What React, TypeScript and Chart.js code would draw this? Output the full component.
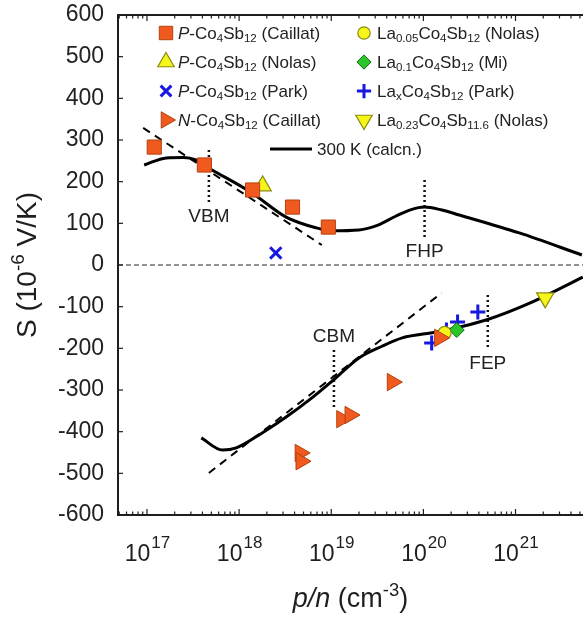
import React, { useEffect, useRef } from 'react';
import { Chart, registerables } from 'chart.js';

Chart.register(...registerables);

const FONT = "Arial, 'Liberation Sans', Helvetica, sans-serif";
const INK = '#1e1e1e';

// ---------- axes ----------
const X_MIN = 4.85e16;
const X_MAX = 5.4e21;
const Y_MIN = -600;
const Y_MAX = 600;
const Y_STEP = 100;
const X_DECADES = [17, 18, 19, 20, 21];

// ---------- measured data: carrier conc. (cm^-3) / Seebeck (uV/K) ----------
const pCaillatN = [1.2e17, 4.2e17, 1.4e18, 3.8e18, 9.3e18];
const pCaillatS = [283, 240, 180, 139, 91];
const pNolasN = [1.8e18];
const pNolasS = [190];
const pParkN = [2.5e18];
const pParkS = [29];
const nCaillatN = [4.6e18, 4.7e18, 1.3e19, 1.6e19, 4.6e19, 1.5e20];
const nCaillatS = [-451, -471, -370, -360, -281, -175];
const la005N = [1.7e20];
const la005S = [-163];
const la01N = [2.3e20];
const la01S = [-156];
const laxN = [1.23e20, 1.78e20, 2.35e20, 3.9e20];
const laxS = [-187, -156, -137, -113];
const la023N = [2.1e21];
const la023S = [-79];

// ---------- calculated 300 K curve ----------
const calcPN = [9.33e16, 1.62e17, 2.51e17, 3.39e17, 4.68e17, 1.38e18, 3.24e18, 6.92e18, 1.02e19, 2.0e19, 3.16e19, 5.0e19, 7.4e19, 1.02e20, 1.58e20, 2.45e20, 1.1e21, 5.25e21];
const calcPS = [240, 257, 258, 252, 233, 173, 115, 89, 82, 84, 95, 117, 133, 139, 132, 120, 77, 24];
const calcNN = [3.89e17, 6.6e17, 9.3e17, 1.78e18, 3.24e18, 6.17e18, 1.02e19, 2.0e19, 3.55e19, 5.9e19, 1.38e20, 2.45e20, 4.79e20, 1.51e21, 5.37e21];
const calcNS = [-415, -444, -439, -403, -365, -319, -279, -223, -195, -175, -161, -149, -132, -89, -29];

// ---------- tangent (dashed) lines ----------
const tanPN = [9.1e16, 7.9e18];
const tanPS = [329, 48];
const tanNN = [4.7e17, 1.58e20];
const tanNS = [-499, -67];

// ---------- band markers (dotted) ----------
const markLabels = ['VBM', 'FHP', 'CBM', 'FEP'];
const markN = [4.7e17, 1.03e20, 1.07e19, 5.0e20];
const markTop = [276, 204, -204, -72];
const markBottom = [146, 60, -343, -197];
const markTextS = [120, 36, -168, -233];

// ---------- legend text ----------
type Seg = [string, string];
const legendLabels: Seg[][] = [
  [['P', 'i'], ['-Co', 'n'], ['4', 'sub'], ['Sb', 'n'], ['12', 'sub'], [' (Caillat)', 'n']],
  [['P', 'i'], ['-Co', 'n'], ['4', 'sub'], ['Sb', 'n'], ['12', 'sub'], [' (Nolas)', 'n']],
  [['P', 'i'], ['-Co', 'n'], ['4', 'sub'], ['Sb', 'n'], ['12', 'sub'], [' (Park)', 'n']],
  [['N', 'i'], ['-Co', 'n'], ['4', 'sub'], ['Sb', 'n'], ['12', 'sub'], [' (Caillat)', 'n']],
  [['La', 'n'], ['0.05', 'sub'], ['Co', 'n'], ['4', 'sub'], ['Sb', 'n'], ['12', 'sub'], [' (Nolas)', 'n']],
  [['La', 'n'], ['0.1', 'sub'], ['Co', 'n'], ['4', 'sub'], ['Sb', 'n'], ['12', 'sub'], [' (Mi)', 'n']],
  [['La', 'n'], ['x', 'sub'], ['Co', 'n'], ['4', 'sub'], ['Sb', 'n'], ['12', 'sub'], [' (Park)', 'n']],
  [['La', 'n'], ['0.23', 'sub'], ['Co', 'n'], ['4', 'sub'], ['Sb', 'n'], ['11.6', 'sub'], [' (Nolas)', 'n']],
];
const curveLabel: Seg[] = [['300 K (calcn.)', 'n']];
const xTitle: Seg[] = [['p/n', 'i'], [' (cm', 'n'], ['-3', 'sup'], [')', 'n']];
const yTitle: Seg[] = [['S (10', 'n'], ['-6', 'sup'], [' V/K)', 'n']];

const ORANGE = '#F05A1E';
const ORANGE_EDGE = '#B3420E';
const YELLOW = '#F6F61A';
const YELLOW_EDGE = '#8C8A10';
const BLUE = '#1818E0';
const GREEN = '#2BC42B';
const GREEN_EDGE = '#0F6A0F';

const pts = (xs: number[], ys: number[]) => xs.map((x, i) => ({ x, y: ys[i] }));

function drawRich(ctx: CanvasRenderingContext2D, segs: Seg[], x: number, y: number, size: number, align: 'left' | 'center' = 'left') {
  const parts = segs.map(([t, s]) => {
    const small = s === 'sub' || s === 'sup';
    const fs = small ? size * 0.68 : size;
    const font = `${s === 'i' ? 'italic ' : ''}${fs}px ${FONT}`;
    ctx.font = font;
    return { t, s, font, w: ctx.measureText(t).width };
  });
  const total = parts.reduce((a, p) => a + p.w, 0);
  let cx = align === 'center' ? x - total / 2 : x;
  ctx.textAlign = 'left';
  ctx.textBaseline = 'alphabetic';
  for (const p of parts) {
    ctx.font = p.font;
    const dy = p.s === 'sub' ? size * 0.2 : p.s === 'sup' ? -size * 0.42 : 0;
    ctx.fillText(p.t, cx, y + dy);
    cx += p.w;
  }
  return total;
}

function drawMarker(ctx: CanvasRenderingContext2D, style: string, x: number, y: number, r: number, fill: string, stroke: string, lw: number, rotDeg: number) {
  ctx.save();
  ctx.beginPath();
  ctx.fillStyle = fill;
  ctx.strokeStyle = stroke;
  ctx.lineWidth = lw;
  let rad = (rotDeg * Math.PI) / 180;
  if (style === 'rect') {
    const s = r * Math.SQRT1_2;
    ctx.rect(x - s, y - s, 2 * s, 2 * s);
    ctx.fill();
    ctx.stroke();
  } else if (style === 'triangle') {
    for (let i = 0; i < 3; i++) {
      const px = x + Math.sin(rad) * r;
      const py = y - Math.cos(rad) * r;
      if (i === 0) ctx.moveTo(px, py);
      else ctx.lineTo(px, py);
      rad += (2 * Math.PI) / 3;
    }
    ctx.closePath();
    ctx.fill();
    ctx.stroke();
  } else if (style === 'circle') {
    ctx.arc(x, y, r, 0, Math.PI * 2);
    ctx.fill();
    ctx.stroke();
  } else if (style === 'rectRot') {
    ctx.moveTo(x, y - r);
    ctx.lineTo(x + r, y);
    ctx.lineTo(x, y + r);
    ctx.lineTo(x - r, y);
    ctx.closePath();
    ctx.fill();
    ctx.stroke();
  } else if (style === 'cross' || style === 'crossRot') {
    if (style === 'crossRot') rad += Math.PI / 4;
    const xo = Math.cos(rad) * r;
    const yo = Math.sin(rad) * r;
    ctx.moveTo(x - xo, y - yo);
    ctx.lineTo(x + xo, y + yo);
    ctx.moveTo(x - yo, y + xo);
    ctx.lineTo(x + yo, y - xo);
    ctx.stroke();
  }
  ctx.restore();
}

const zeroPad = (s: any) => {
  s.paddingTop = 0;
  s.paddingBottom = 0;
  s.paddingLeft = 0;
  s.paddingRight = 0;
};

const overlay = {
  id: 'overlay',
  afterDraw(chart: any) {
    const { ctx, chartArea: a, scales } = chart;
    const xs = scales.x;
    const ys = scales.y;
    ctx.save();
    ctx.strokeStyle = INK;
    ctx.fillStyle = INK;
    const seg = (x1: number, y1: number, x2: number, y2: number) => {
      ctx.beginPath();
      ctx.moveTo(x1, y1);
      ctx.lineTo(x2, y2);
      ctx.stroke();
    };
    // top border
    ctx.lineWidth = 2;
    seg(a.left - 1, a.top, a.right, a.top);
    // x ticks (inward, both sides)
    ctx.lineWidth = 1.2;
    for (let e = 16; e <= 21; e++) {
      for (let k = 1; k <= 9; k++) {
        const v = k * Math.pow(10, e);
        if (v < xs.min || v > xs.max) continue;
        const px = xs.getPixelForValue(v);
        const len = k === 1 ? 6 : 3.5;
        seg(px, a.bottom, px, a.bottom - len);
        seg(px, a.top, px, a.top + len);
      }
    }
    // y ticks (inward)
    for (let v = Y_MIN; v <= Y_MAX; v += Y_STEP) {
      const py = ys.getPixelForValue(v);
      seg(a.left, py, a.left + 5, py);
    }
    // x tick labels 10^n
    for (const n of X_DECADES) {
      const px = xs.getPixelForValue(Math.pow(10, n));
      ctx.font = `23px ${FONT}`;
      const w1 = ctx.measureText('10').width;
      ctx.font = `17px ${FONT}`;
      const w2 = ctx.measureText(String(n)).width;
      const x0 = px - (w1 + w2) / 2;
      ctx.textAlign = 'left';
      ctx.textBaseline = 'alphabetic';
      ctx.font = `23px ${FONT}`;
      ctx.fillText('10', x0, 561);
      ctx.font = `17px ${FONT}`;
      ctx.fillText(String(n), x0 + w1 + 1, 548);
    }
    // axis titles
    drawRich(ctx, xTitle, (a.left + a.right) / 2, 607, 27, 'center');
    ctx.save();
    ctx.translate(26, (a.top + a.bottom) / 2);
    ctx.rotate(-Math.PI / 2);
    drawRich(ctx, yTitle, 0, 9.5, 28, 'center');
    ctx.restore();
    // band labels
    ctx.fillStyle = '#222';
    markLabels.forEach((t, i) => {
      const px = xs.getPixelForValue(markN[i]);
      const py = ys.getPixelForValue(markTextS[i]);
      drawRich(ctx, [[t, 'n']], px, py + 7, 19, 'center');
    });
    // legend
    const ds = chart.data.datasets;
    for (let i = 0; i < 8; i++) {
      const d = ds[i];
      const col = i < 4 ? 0 : 1;
      const row = i % 4;
      const mx = col === 0 ? 166 : 364;
      const tx = col === 0 ? 178 : 377;
      const my = 33 + row * 29;
      drawMarker(ctx, d.pointStyle, mx, my, d.pointRadius * 0.95, d.backgroundColor, d.borderColor, d.borderWidth, d.pointRotation || 0);
      ctx.fillStyle = '#222';
      drawRich(ctx, legendLabels[i], tx, my + 6, 17);
    }
    ctx.strokeStyle = '#000';
    ctx.lineWidth = 3;
    seg(270, 149, 312, 149);
    ctx.fillStyle = '#222';
    drawRich(ctx, curveLabel, 317, 155, 17);
    ctx.restore();
  },
};

export default function App() {
  const ref = useRef<HTMLCanvasElement>(null);
  useEffect(() => {
    const canvas = ref.current;
    if (!canvas) return;
    const lineDs = (xs: number[], ys: number[], extra: any) => ({
      data: pts(xs, ys),
      showLine: true,
      pointRadius: 0,
      borderColor: '#000',
      backgroundColor: '#000',
      fill: false,
      ...extra,
    });
    const markDs = markN.map((n, i) =>
      lineDs([n, n], [markTop[i], markBottom[i]], { borderWidth: 2.5, borderDash: [2, 3], borderColor: '#111' })
    );
    const chart = new Chart(canvas, {
      type: 'scatter',
      data: {
        datasets: [
          { label: 'P-Co4Sb12 (Caillat)', data: pts(pCaillatN, pCaillatS), pointStyle: 'rect', pointRadius: 10, backgroundColor: ORANGE, borderColor: ORANGE_EDGE, borderWidth: 1 },
          { label: 'P-Co4Sb12 (Nolas)', data: pts(pNolasN, pNolasS), pointStyle: 'triangle', pointRadius: 10, backgroundColor: YELLOW, borderColor: YELLOW_EDGE, borderWidth: 1.2 },
          { label: 'P-Co4Sb12 (Park)', data: pts(pParkN, pParkS), pointStyle: 'crossRot', pointRadius: 8, backgroundColor: BLUE, borderColor: BLUE, borderWidth: 3 },
          { label: 'N-Co4Sb12 (Caillat)', data: pts(nCaillatN, nCaillatS), pointStyle: 'triangle', pointRotation: 90, pointRadius: 10, backgroundColor: ORANGE, borderColor: ORANGE_EDGE, borderWidth: 1 },
          { label: 'La0.05Co4Sb12 (Nolas)', data: pts(la005N, la005S), pointStyle: 'circle', pointRadius: 6.5, backgroundColor: YELLOW, borderColor: YELLOW_EDGE, borderWidth: 1.2 },
          { label: 'La0.1Co4Sb12 (Mi)', data: pts(la01N, la01S), pointStyle: 'rectRot', pointRadius: 7.5, backgroundColor: GREEN, borderColor: GREEN_EDGE, borderWidth: 1 },
          { label: 'LaxCo4Sb12 (Park)', data: pts(laxN, laxS), pointStyle: 'cross', pointRadius: 7.5, backgroundColor: BLUE, borderColor: BLUE, borderWidth: 3 },
          { label: 'La0.23Co4Sb11.6 (Nolas)', data: pts(la023N, la023S), pointStyle: 'triangle', pointRotation: 180, pointRadius: 10, backgroundColor: YELLOW, borderColor: YELLOW_EDGE, borderWidth: 1.2 },
          lineDs(calcPN, calcPS, { label: '300 K (calcn.)', borderWidth: 3, cubicInterpolationMode: 'monotone' }),
          lineDs(calcNN, calcNS, { label: '300 K n', borderWidth: 3, cubicInterpolationMode: 'monotone' }),
          lineDs(tanPN, tanPS, { label: 'tangent p', borderWidth: 2, borderDash: [8, 6] }),
          lineDs(tanNN, tanNS, { label: 'tangent n', borderWidth: 2, borderDash: [8, 6] }),
          ...markDs,
          lineDs([X_MIN, X_MAX], [0, 0], { label: 'zero', borderWidth: 1, borderDash: [5, 3], borderColor: '#222' }),
        ],
      },
      options: {
        responsive: false,
        animation: false,
        devicePixelRatio: 1,
        layout: { autoPadding: false, padding: { left: 0, top: 15, right: 0, bottom: 0 } },
        plugins: { legend: { display: false }, tooltip: { enabled: false } },
        scales: {
          x: {
            type: 'logarithmic',
            min: X_MIN,
            max: X_MAX,
            ticks: { display: false },
            grid: { display: false, drawTicks: false },
            border: { display: true, color: INK, width: 2 },
            afterFit: (s: any) => { s.height = 103; zeroPad(s); },
          },
          y: {
            type: 'linear',
            min: Y_MIN,
            max: Y_MAX,
            ticks: { stepSize: Y_STEP, autoSkip: false, padding: 14, color: '#222', font: { family: FONT, size: 23 } },
            grid: { display: false, drawTicks: false },
            border: { display: true, color: INK, width: 2 },
            afterFit: (s: any) => { s.width = 118; zeroPad(s); },
          },
        },
      },
      plugins: [overlay],
    } as any);
    return () => chart.destroy();
  }, []);
  return (
    <div style={{ position: 'absolute', left: 0, top: 0, width: 583, height: 618, background: '#fff' }}>
      <canvas ref={ref} width={583} height={618} style={{ display: 'block', width: 583, height: 618 }} />
    </div>
  );
}
